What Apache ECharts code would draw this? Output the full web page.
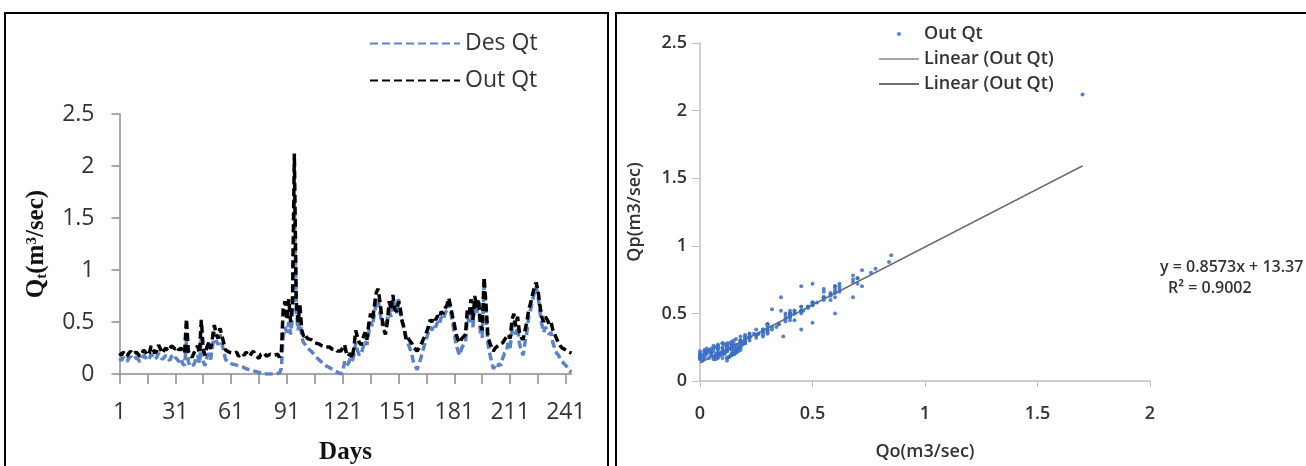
<!DOCTYPE html>
<html>
<head>
<meta charset="utf-8">
<script src="https://cdn.jsdelivr.net/npm/echarts@6/dist/echarts.min.js"></script>
<style>
  html, body { margin: 0; padding: 0; background: #fff; }
  #chart { width: 1306px; height: 466px; }
</style>
</head>
<body>
<div id="chart"></div>
<script>
// daily flow, m3/sec, days 1..244
const desQt = [
  0.15, 0.13, 0.16, 0.14, 0.12, 0.15, 0.17, 0.14, 0.13, 0.16,
  0.14, 0.12, 0.15, 0.18, 0.16, 0.13, 0.15, 0.19, 0.17, 0.14,
  0.16, 0.20, 0.17, 0.14, 0.16, 0.18, 0.15, 0.13, 0.17, 0.19,
  0.16, 0.14, 0.12, 0.15, 0.10, 0.08, 0.32, 0.12, 0.07, 0.06,
  0.09, 0.14, 0.18, 0.10, 0.36, 0.12, 0.08, 0.16, 0.20, 0.14,
  0.26, 0.40, 0.32, 0.28, 0.38, 0.30, 0.22, 0.14, 0.12, 0.11,
  0.10, 0.11, 0.09, 0.08, 0.08, 0.07, 0.07, 0.06, 0.05, 0.05,
  0.04, 0.03, 0.03, 0.02, 0.02, 0.01, 0.01, 0.00, 0.00, 0.00,
  0.00, 0.00, 0.00, 0.00, 0.00, 0.00, 0.01, 0.05, 0.36, 0.45,
  0.40, 0.50, 0.38, 0.55, 1.70, 0.62, 0.42, 0.55, 0.35, 0.30,
  0.28, 0.25, 0.24, 0.22, 0.20, 0.18, 0.16, 0.14, 0.13, 0.11,
  0.10, 0.08, 0.07, 0.06, 0.05, 0.04, 0.03, 0.02, 0.02, 0.00,
  0.02, 0.12, 0.08, 0.10, 0.15, 0.12, 0.18, 0.30, 0.22, 0.18,
  0.20, 0.26, 0.32, 0.28, 0.40, 0.50, 0.46, 0.58, 0.68, 0.72,
  0.60, 0.48, 0.50, 0.45, 0.45, 0.60, 0.55, 0.70, 0.68, 0.58,
  0.72, 0.60, 0.60, 0.42, 0.37, 0.30, 0.25, 0.20, 0.12, 0.08,
  0.04, 0.10, 0.15, 0.22, 0.28, 0.34, 0.40, 0.45, 0.42, 0.48,
  0.45, 0.50, 0.48, 0.55, 0.52, 0.58, 0.62, 0.68, 0.60, 0.50,
  0.40, 0.28, 0.22, 0.18, 0.25, 0.28, 0.30, 0.55, 0.50, 0.62,
  0.45, 0.68, 0.58, 0.70, 0.40, 0.35, 0.85, 0.60, 0.30, 0.20,
  0.12, 0.05, 0.08, 0.06, 0.10, 0.08, 0.15, 0.20, 0.22, 0.30,
  0.25, 0.42, 0.50, 0.38, 0.45, 0.30, 0.22, 0.18, 0.30, 0.40,
  0.55, 0.62, 0.70, 0.78, 0.84, 0.76, 0.60, 0.48, 0.40, 0.45,
  0.42, 0.38, 0.40, 0.30, 0.25, 0.20, 0.18, 0.14, 0.12, 0.10,
  0.08, 0.06, 0.03, 0.02
];
const outQt = [
  0.20, 0.18, 0.21, 0.19, 0.17, 0.20, 0.22, 0.19, 0.18, 0.21,
  0.19, 0.17, 0.20, 0.23, 0.21, 0.18, 0.20, 0.27, 0.24, 0.20,
  0.22, 0.28, 0.24, 0.20, 0.23, 0.25, 0.22, 0.24, 0.27, 0.28,
  0.24, 0.26, 0.23, 0.25, 0.22, 0.20, 0.53, 0.22, 0.18, 0.16,
  0.20, 0.24, 0.27, 0.20, 0.52, 0.24, 0.18, 0.26, 0.30, 0.24,
  0.35, 0.47, 0.38, 0.34, 0.44, 0.37, 0.30, 0.23, 0.22, 0.21,
  0.22, 0.20, 0.19, 0.21, 0.17, 0.16, 0.20, 0.18, 0.21, 0.19,
  0.17, 0.20, 0.22, 0.18, 0.17, 0.15, 0.19, 0.18, 0.20, 0.17,
  0.16, 0.19, 0.20, 0.18, 0.17, 0.19, 0.16, 0.20, 0.62, 0.70,
  0.52, 0.72, 0.50, 0.68, 2.12, 0.70, 0.50, 0.66, 0.42, 0.36,
  0.38, 0.34, 0.35, 0.33, 0.32, 0.30, 0.31, 0.29, 0.28, 0.27,
  0.28, 0.26, 0.25, 0.26, 0.24, 0.23, 0.24, 0.22, 0.23, 0.22,
  0.21, 0.28, 0.20, 0.17, 0.20, 0.15, 0.25, 0.42, 0.35, 0.30,
  0.28, 0.35, 0.40, 0.33, 0.48, 0.58, 0.52, 0.65, 0.78, 0.82,
  0.70, 0.55, 0.43, 0.38, 0.50, 0.70, 0.62, 0.76, 0.62, 0.60,
  0.70, 0.62, 0.50, 0.45, 0.33, 0.35, 0.32, 0.30, 0.26, 0.24,
  0.22, 0.25, 0.28, 0.32, 0.36, 0.40, 0.45, 0.52, 0.50, 0.55,
  0.52, 0.56, 0.54, 0.60, 0.58, 0.63, 0.66, 0.73, 0.65, 0.56,
  0.48, 0.38, 0.33, 0.30, 0.34, 0.36, 0.38, 0.62, 0.58, 0.72,
  0.52, 0.75, 0.64, 0.72, 0.48, 0.42, 0.93, 0.68, 0.38, 0.30,
  0.26, 0.22, 0.25, 0.24, 0.28, 0.27, 0.30, 0.33, 0.32, 0.38,
  0.34, 0.52, 0.58, 0.46, 0.55, 0.40, 0.35, 0.33, 0.42, 0.50,
  0.62, 0.68, 0.76, 0.83, 0.88, 0.80, 0.66, 0.55, 0.50, 0.55,
  0.52, 0.48, 0.50, 0.42, 0.38, 0.34, 0.30, 0.27, 0.25, 0.24,
  0.23, 0.22, 0.21, 0.20
];
const days = desQt.map((_, i) => String(i + 1));

// trend line end points
const trendLine = [[0, 0.134], [1.7, 1.591]];
const equationText = "y = 0.8573x + 13.37";
const r2Text = "R\u00b2 = 0.9002";

const scatterPoints = desQt.map((d, i) => [d, outQt[i]]);

const sansFont = "Open Sans";
const serifFont = "Liberation Serif";
const rightLegendNames = {
  "scatter": "Out Qt",
  "linear1": "Linear (Out Qt)",
  "linear2": "Linear (Out Qt)",
};
const noDot = { opacity: 0 };

let myChart = echarts.init(document.getElementById("chart"));
let option = {
  animation: false,
  backgroundColor: "#fff",
  graphic: [
    {
      type: "rect",
      shape: { x: 5, y: 13, width: 603, height: 470 },
      style: { fill: "none", stroke: "#000", lineWidth: 2 },
    },
    {
      type: "rect",
      shape: { x: 616, y: 13, width: 700, height: 470 },
      style: { fill: "none", stroke: "#000", lineWidth: 2 },
    },
    {
      type: "text",
      left: 1160,
      top: 259,
      style: { text: equationText, font: "600 16px " + sansFont, fill: "#333" },
    },
    {
      type: "text",
      left: 1168,
      top: 280,
      style: { text: r2Text, font: "600 16px " + sansFont, fill: "#333" },
    },
  ],
  legend: [
    {
      data: [
        { name: "Des Qt", itemStyle: noDot },
        { name: "Out Qt", itemStyle: noDot },
      ],
      orient: "vertical",
      left: 364,
      top: 26,
      itemWidth: 90,
      itemHeight: 3,
      itemGap: 12,
      textStyle: { fontFamily: sansFont, fontSize: 23, color: "#333", lineHeight: 25 },
    },
    {
      data: [
        "scatter",
        { name: "linear1", itemStyle: noDot },
        { name: "linear2", itemStyle: noDot },
      ],
      orient: "vertical",
      left: 873,
      top: 19,
      itemWidth: 40,
      itemHeight: 4,
      itemGap: 5,
      formatter: (name) => rightLegendNames[name],
      textStyle: { fontFamily: sansFont, fontSize: 18, fontWeight: 600, color: "#333", lineHeight: 20 },
    },
  ],
  grid: [
    { left: 119.5, top: 114, width: 452, height: 260, outerBoundsMode: "none" },
    { left: 700, top: 43, width: 450, height: 338, outerBoundsMode: "none" },
  ],
  xAxis: [
    {
      gridIndex: 0,
      type: "category",
      data: days,
      boundaryGap: false,
      name: "Days",
      nameLocation: "middle",
      nameGap: 66,
      nameTextStyle: { fontFamily: serifFont, fontWeight: "bold", fontSize: 25, color: "#111" },
      axisLine: { lineStyle: { color: "#8c8c8c", width: 1.5 } },
      axisTick: { interval: 14, length: 10, lineStyle: { color: "#8c8c8c", width: 1.5 } },
      axisLabel: { interval: 29, margin: 27, fontFamily: sansFont, fontSize: 23, color: "#333" },
    },
    {
      gridIndex: 1,
      type: "value",
      min: 0,
      max: 2,
      interval: 0.5,
      name: "Qo(m3/sec)",
      nameLocation: "middle",
      nameGap: 62,
      nameTextStyle: { fontFamily: sansFont, fontWeight: 600, fontSize: 18, color: "#333" },
      axisLine: { lineStyle: { color: "#bfbfbf", width: 1.5 } },
      axisTick: { show: true, length: 6, lineStyle: { color: "#bfbfbf" } },
      splitLine: { show: false },
      axisLabel: { margin: 24, fontFamily: sansFont, fontSize: 18, fontWeight: 600, color: "#333" },
    },
  ],
  yAxis: [
    {
      gridIndex: 0,
      type: "value",
      min: 0,
      max: 2.5,
      interval: 0.5,
      name: "Q{s|t}(m{p|3}/sec)",
      nameLocation: "middle",
      nameGap: 70,
      nameTextStyle: {
        fontFamily: serifFont,
        fontWeight: "bold",
        fontSize: 25,
        color: "#111",
        rich: {
          s: { fontFamily: serifFont, fontWeight: "bold", fontSize: 15, color: "#111", verticalAlign: "bottom", padding: [10, 0, 0, 0] },
          p: { fontFamily: serifFont, fontWeight: "bold", fontSize: 15, color: "#111", verticalAlign: "top", padding: [0, 0, 10, 0] },
        },
      },
      axisLine: { show: true, lineStyle: { color: "#8c8c8c", width: 1.5 } },
      axisTick: { show: true, length: 8, lineStyle: { color: "#8c8c8c", width: 1.5 } },
      splitLine: { show: false },
      axisLabel: { margin: 25, fontFamily: sansFont, fontSize: 23, color: "#333" },
    },
    {
      gridIndex: 1,
      type: "value",
      min: 0,
      max: 2.5,
      interval: 0.5,
      name: "Qp(m3/sec)",
      nameLocation: "middle",
      nameGap: 56,
      nameTextStyle: { fontFamily: sansFont, fontWeight: 600, fontSize: 18, color: "#333" },
      axisLine: { show: true, lineStyle: { color: "#bfbfbf", width: 1.5 } },
      axisTick: { show: true, length: 8, lineStyle: { color: "#bfbfbf" } },
      splitLine: { show: false },
      axisLabel: { margin: 13, fontFamily: sansFont, fontSize: 18, fontWeight: 600, color: "#333" },
    },
  ],
  series: [
    {
      name: "Des Qt",
      type: "line",
      xAxisIndex: 0,
      yAxisIndex: 0,
      data: desQt,
      symbol: "none",
      color: "#5b83c6",
      lineStyle: { color: "#5b83c6", width: 3.5, type: [8, 4] },
    },
    {
      name: "Out Qt",
      type: "line",
      xAxisIndex: 0,
      yAxisIndex: 0,
      data: outQt,
      symbol: "none",
      color: "#000",
      lineStyle: { color: "#000", width: 3.5, type: [8, 4] },
    },
    {
      name: "scatter",
      type: "scatter",
      xAxisIndex: 1,
      yAxisIndex: 1,
      data: scatterPoints,
      symbol: "circle",
      symbolSize: 4,
      color: "#3a6fc4",
      itemStyle: { color: "#3a6fc4", opacity: 0.85 },
      z: 3,
    },
    {
      name: "linear1",
      type: "line",
      xAxisIndex: 1,
      yAxisIndex: 1,
      data: trendLine,
      symbol: "none",
      color: "#a6a6a6",
      lineStyle: { color: "#a6a6a6", width: 1.5 },
    },
    {
      name: "linear2",
      type: "line",
      xAxisIndex: 1,
      yAxisIndex: 1,
      data: trendLine,
      symbol: "none",
      color: "#6e6e6e",
      lineStyle: { color: "#6e6e6e", width: 1.5 },
    },
  ],
};
myChart.setOption(option);
window.addEventListener("resize", () => {
  myChart.resize();
});
</script>
</body>
</html>
